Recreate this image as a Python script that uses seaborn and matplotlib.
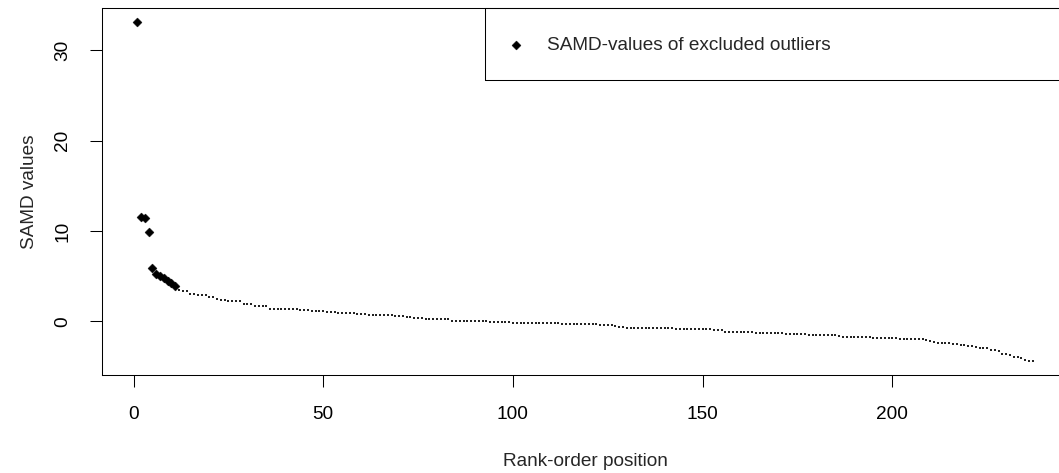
import numpy as np
import pandas as pd
import matplotlib
matplotlib.use("Agg")
import matplotlib.pyplot as plt
from matplotlib.patches import Rectangle
import seaborn as sns

# SAMD values of the excluded outliers (rank-order positions 1-11)
outlier_values = [33.2, 11.6, 11.5, 9.9, 5.9, 5.2, 5.0, 4.8, 4.5, 4.2, 3.9]

# SAMD values of the retained studies (rank-order positions 12-237)
retained_values = [
    3.45, 3.36, 3.32, 3.08, 3.05, 2.93, 2.91, 2.88, 2.70, 2.67,
    2.43, 2.40, 2.38, 2.27, 2.25, 2.24, 2.22, 1.97, 1.95, 1.93,
    1.73, 1.70, 1.68, 1.66, 1.41, 1.39, 1.38, 1.37, 1.36, 1.35,
    1.34, 1.32, 1.24, 1.22, 1.21, 1.19, 1.17, 1.15, 1.13, 1.04,
    1.03, 1.02, 0.94, 0.93, 0.92, 0.91, 0.90, 0.82, 0.81, 0.80,
    0.71, 0.70, 0.70, 0.69, 0.68, 0.67, 0.66, 0.56, 0.55, 0.55,
    0.54, 0.53, 0.41, 0.40, 0.39, 0.27, 0.26, 0.26, 0.25, 0.24,
    0.24, 0.23, 0.06, 0.05, 0.04, 0.03, 0.02, 0.02, 0.01, 0.00,
    0.00, -0.01, -0.02, -0.10, -0.11, -0.11, -0.12, -0.12, -0.13, -0.14,
    -0.20, -0.20, -0.21, -0.21, -0.21, -0.22, -0.22, -0.22, -0.23, -0.23,
    -0.23, -0.24, -0.24, -0.25, -0.31, -0.31, -0.32, -0.32, -0.33, -0.33,
    -0.34, -0.36, -0.43, -0.44, -0.45, -0.46, -0.65, -0.67, -0.69, -0.70,
    -0.70, -0.71, -0.71, -0.72, -0.72, -0.72, -0.73, -0.73, -0.73, -0.74,
    -0.74, -0.80, -0.81, -0.82, -0.82, -0.83, -0.84, -0.85, -0.85, -0.86,
    -0.87, -0.95, -0.97, -1.00, -1.14, -1.15, -1.16, -1.16, -1.17, -1.18,
    -1.18, -1.19, -1.27, -1.28, -1.28, -1.29, -1.30, -1.30, -1.31, -1.33,
    -1.38, -1.39, -1.40, -1.40, -1.41, -1.42, -1.52, -1.53, -1.53, -1.54,
    -1.55, -1.55, -1.56, -1.56, -1.57, -1.72, -1.73, -1.73, -1.74, -1.74,
    -1.75, -1.75, -1.76, -1.83, -1.84, -1.84, -1.85, -1.86, -1.86, -1.87,
    -1.94, -1.95, -1.95, -1.96, -1.96, -1.97, -1.98, -2.08, -2.12, -2.33,
    -2.35, -2.36, -2.37, -2.38, -2.50, -2.52, -2.63, -2.65, -2.67, -2.69,
    -2.85, -2.90, -2.95, -3.00, -3.15, -3.20, -3.25, -3.60, -3.65, -3.70,
    -3.90, -3.98, -4.05, -4.30, -4.38, -4.43,
]

x_ticks = [0, 50, 100, 150, 200]
y_ticks = [0, 10, 20, 30]
x_label = "Rank-order position"
y_label = "SAMD values"
legend_label = "SAMD-values of excluded outliers"

n_out = len(outlier_values)
n_all = n_out + len(retained_values)
outliers = pd.DataFrame({"rank": np.arange(1, n_out + 1), "samd": outlier_values})
retained = pd.DataFrame({"rank": np.arange(n_out + 1, n_all + 1), "samd": retained_values})

sns.set_style("white")
plt.rcParams["font.family"] = ["Liberation Sans", "DejaVu Sans"]
FS = 13.7

W, H = 1059, 473
fig = plt.figure(figsize=(W / 100, H / 100), dpi=100)
left_px, right_px, top_px, bottom_px = 101.5, 1068.5, 8.0, 375.0
ax = fig.add_axes([left_px / W, 1 - bottom_px / H,
                   (right_px - left_px) / W, (bottom_px - top_px) / H])

sns.scatterplot(data=retained, x="rank", y="samd", ax=ax, marker="s", s=0.9,
                color="#222222", linewidth=0, legend=False)
sns.scatterplot(data=outliers, x="rank", y="samd", ax=ax, marker="D", s=21,
                color="black", linewidth=0.3, edgecolor="black",
                label=legend_label)

# R-style 4% padding around the data range
span_x = n_all - 1
span_y = max(outlier_values) - min(retained_values)
ax.set_xlim(1 - 0.04 * span_x, n_all + 0.04 * span_x)
ax.set_ylim(min(retained_values) - 0.04 * span_y, max(outlier_values) + 0.04 * span_y)

ax.set_xticks(x_ticks)
ax.set_yticks(y_ticks)
ax.tick_params(axis="both", which="major", direction="out", length=8.6, width=0.75,
               color="black", labelsize=FS, labelcolor="black", bottom=True, left=True)
ax.tick_params(axis="x", pad=14.0)
ax.tick_params(axis="y", pad=13.0, labelrotation=90)
for lab in ax.get_yticklabels():
    lab.set_verticalalignment("center")

for sp in ax.spines.values():
    sp.set_visible(True)
    sp.set_color("black")
    sp.set_linewidth(0.75)

ax.set_xlabel(x_label, fontsize=FS)
ax.set_ylabel(y_label, fontsize=FS)
ax.xaxis.set_label_coords(0.5, (bottom_px - 453) / (bottom_px - top_px))
ax.yaxis.set_label_coords((38 - left_px) / (right_px - left_px), 0.5)

# legend frame anchored to the top-right corner of the plot region
box_left, box_bottom = 485.0, 80.0
x0 = (box_left - left_px) / (right_px - left_px)
y0 = (bottom_px - box_bottom) / (bottom_px - top_px)
ax.add_patch(Rectangle((x0, y0), 1 - x0, 1 - y0, transform=ax.transAxes,
                       fill=False, edgecolor="black", linewidth=0.75, clip_on=False))
ax.legend(loc="center left",
          bbox_to_anchor=((506.5 - left_px) / (right_px - left_px),
                          (bottom_px - 45) / (bottom_px - top_px)),
          frameon=False, fontsize=FS, handlelength=1.0, handletextpad=1.13,
          borderpad=0, borderaxespad=0, markerscale=1.0)

fig.savefig("out.png", dpi=100)
